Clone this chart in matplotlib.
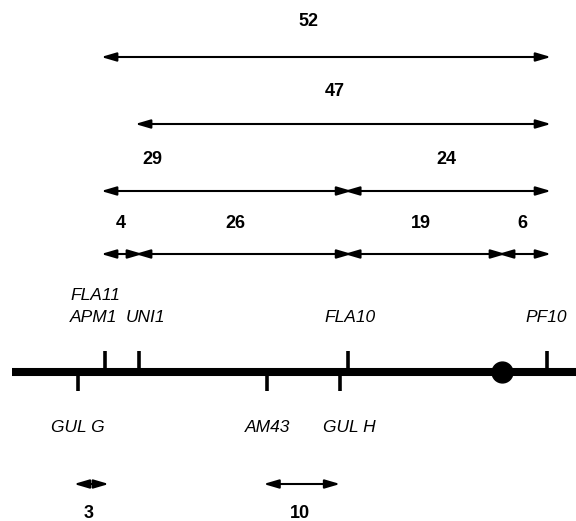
import matplotlib.pyplot as plt

plt.rcParams['font.family'] = ['Liberation Sans', 'DejaVu Sans']

# marker positions along the chromosome (map units, APM1 = 0)
markers_up = ["APM1", "UNI1", "FLA10", "PF10"]
pos_up = [0.0, 4.0, 28.6, 52.0]
markers_down = ["GUL G", "AM43", "GUL H"]
pos_down = [-3.2, 19.1, 27.6]
centromere = 46.7

# label text and small offsets of the label centre (map units)
labels_up = ["APM1", "UNI1", "FLA10", "PF10"]
labels_up_dx = [-1.4, 0.7, 0.2, -0.1]
labels_down = ["GUL G", "AM43", "GUL H"]
labels_down_dx = [0.0, 0.0, 1.1]

# distance arrows: (start, end, value, label x)
arrow_rows = [
    [(0.0, 52.0, "52", 23.9)],
    [(4.0, 52.0, "47", 27.0)],
    [(0.0, 28.6, "29", 5.6), (28.6, 52.0, "24", 40.1)],
    [(0.0, 4.0, "4", 1.8), (4.0, 28.6, "26", 15.3),
     (28.6, 46.7, "19", 37.1), (46.7, 52.0, "6", 49.1)],
]
row_y = [57, 124, 191, 254]
row_label_y = [22, 91, 159, 224]

bottom_arrows = [(-3.2, 0.0, "3", -1.9), (19.1, 27.2, "10", 22.9)]
bottom_y = 484
bottom_label_y = 513

fig = plt.figure(figsize=(5.76, 5.21), dpi=100)
ax = fig.add_axes([0, 0, 1, 1])
ax.set_xlim(-12.35, 55.4)
ax.set_ylim(521, 0)
ax.axis("off")

line_y = 372
pad = 0.45  # arrowheads reach a little past the marker

# chromosome
ax.plot([-10.9, 55.4], [line_y, line_y], color="black", lw=5.8, solid_capstyle="butt")
for p in pos_up:
    ax.plot([p, p], [line_y, 351], color="black", lw=2.6, solid_capstyle="butt")
for p in pos_down:
    ax.plot([p, p], [line_y, 391], color="black", lw=2.6, solid_capstyle="butt")
ax.plot(centromere, line_y, "o", color="black", markersize=15)

# marker names
for name, p, dx in zip(labels_up, pos_up, labels_up_dx):
    ax.text(p + dx, 317, name, ha="center", va="center", fontsize=12.5, style="italic")
ax.text(pos_up[0] - 1.1, 295, "FLA11", ha="center", va="center", fontsize=12.5, style="italic")
for name, p, dx in zip(labels_down, pos_down, labels_down_dx):
    ax.text(p + dx, 427, name, ha="center", va="center", fontsize=12.5, style="italic")


def draw_arrow(x0, x1, y):
    ax.annotate("", xy=(x1 + pad, y), xytext=(x0 - pad, y),
                arrowprops=dict(arrowstyle="<|-|>,head_length=0.75,head_width=0.22",
                                color="black", lw=1.5, mutation_scale=12,
                                shrinkA=0, shrinkB=0))


for row, y, ly in zip(arrow_rows, row_y, row_label_y):
    for x0, x1, val, lx in row:
        draw_arrow(x0, x1, y)
        ax.text(lx, ly, val, ha="center", va="center", fontsize=13, fontweight="bold")

for x0, x1, val, lx in bottom_arrows:
    draw_arrow(x0, x1, bottom_y)
    ax.text(lx, bottom_label_y, val, ha="center", va="center", fontsize=13, fontweight="bold")

fig.savefig("out.png", dpi=100)
